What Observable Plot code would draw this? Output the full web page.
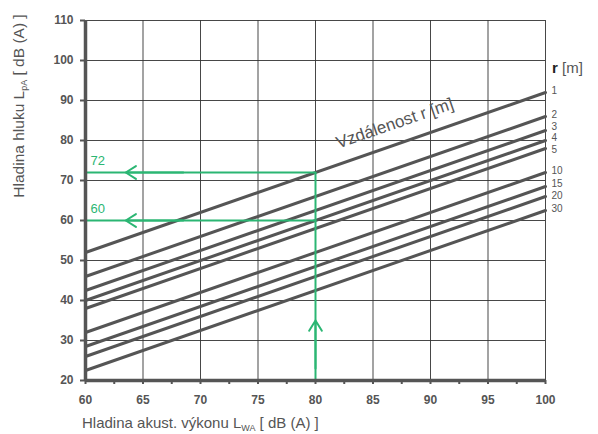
<!DOCTYPE html>
<html><head><meta charset="utf-8">
<script src="https://cdn.jsdelivr.net/npm/d3@7"></script>
<script src="https://cdn.jsdelivr.net/npm/@observablehq/plot@0.6"></script>
<style>body{margin:0;background:#fff}svg{display:block}</style>
</head><body><div id="chart"></div>
<script>
// Distance r [m] of each curve and its sound-pressure level at LwA = 60 and 100 dB(A)
const distances = [1, 2, 3, 4, 5, 10, 15, 20, 30];
const lpAtLw60  = [52, 46, 42.5, 40, 38, 32, 28.5, 26, 22.5];
const lpAtLw100 = [92, 86, 82.5, 80, 78, 72, 68.5, 66, 62.5];
// level at which each r label sits on the right edge
const labelLp   = [92.5, 86.5, 83.5, 80.6, 77.6, 72.5, 69.3, 66.1, 62.9];
const xTicks = [60, 65, 70, 75, 80, 85, 90, 95, 100];
const xMinorTicks = [60, 62.5, 65, 67.5, 70, 72.5, 75, 77.5, 80, 82.5, 85, 87.5, 90, 92.5, 95, 97.5, 100];
const yTicks = [20, 30, 40, 50, 60, 70, 80, 90, 100, 110];
// example reading (green)
const readLw = 80;
const readLp = [72, 60];
const arrowLeftTip = 63.5;
const arrowUpTip = 35;

const W = 598, H = 434;
const GREEN = "#2bb673", GREY = "#555";

const curves = distances.flatMap((r, i) => [
  {r, lw: 60, lp: lpAtLw60[i]},
  {r, lw: 100, lp: lpAtLw100[i]}
]);
const endLabels = distances.map((r, i) => ({r, lw: 100, lp: labelLp[i]}));
const hReadings = readLp.flatMap(v => [{v, lw: 60}, {v, lw: readLw}]);

const plot = Plot.plot({
  width: W, height: H,
  marginLeft: 85, marginRight: 53, marginTop: 20, marginBottom: 54,
  style: {fontFamily: "'Liberation Sans', Arial, sans-serif", fontSize: "12px", color: "#444", background: "#fff"},
  x: {domain: [60, 100], axis: null, label: null},
  y: {domain: [20, 110], axis: null, label: null},
  marks: [
    Plot.gridX(xTicks.slice(1), {stroke: "#333", strokeOpacity: 0.9, strokeWidth: 1}),
    Plot.gridY(yTicks.slice(1), {stroke: "#333", strokeOpacity: 0.9, strokeWidth: 1}),
    Plot.line(curves, {x: "lw", y: "lp", z: "r", stroke: GREY, strokeWidth: 3}),
    // green reading
    Plot.line(hReadings, {x: "lw", y: "v", z: "v", stroke: GREEN, strokeWidth: 2}),
    Plot.ruleX([readLw], {y1: 20, y2: readLp[0], stroke: GREEN, strokeWidth: 2}),
    Plot.arrow(readLp, {x1: arrowLeftTip + 5, x2: arrowLeftTip, y1: d => d, y2: d => d, stroke: GREEN, strokeWidth: 2, headLength: 9, headAngle: 64}),
    Plot.arrow([readLw], {x1: d => d, x2: d => d, y1: arrowUpTip - 12, y2: arrowUpTip, stroke: GREEN, strokeWidth: 2, headLength: 9, headAngle: 64}),
    Plot.text(readLp, {x: 60, y: d => d, text: d => String(d), textAnchor: "start", dx: 5, dy: -12, fill: GREEN, fontSize: 13}),
    // axes
    Plot.ruleX([60], {stroke: GREY, strokeWidth: 3.5}),
    Plot.ruleY([20], {stroke: GREY, strokeWidth: 3.5}),
    Plot.axisX(xMinorTicks, {tickSize: 4, text: null, label: null, stroke: GREY, strokeWidth: 2}),
    Plot.axisX(xTicks, {tickSize: 0, tickPadding: 15, label: null, fontWeight: "bold", fill: "#555", fontSize: 12}),
    Plot.axisY(yTicks, {tickSize: 5, tickPadding: 7, label: null, stroke: GREY, strokeWidth: 2, fontWeight: "bold", fill: "#555", fontSize: 12}),
    // curve labels
    Plot.text(endLabels, {x: "lw", y: "lp", text: d => String(d.r), textAnchor: "start", dx: 6, fill: "#555", fontSize: 10}),
    Plot.text(["Vzdálenost r [m]"], {x: 86.9, y: 84.3, text: d => d, rotate: -19, fill: "#555", fontSize: 17}),
  ]
});

document.getElementById("chart").appendChild(plot);

const xs = plot.scale("x"), ys = plot.scale("y");
const svg = d3.select(plot);
const font = "'Liberation Sans', Arial, sans-serif";

// x-axis title with subscript
const xt = svg.append("text").attr("x", xs.apply(60) - 3).attr("y", H - 6)
  .attr("text-anchor", "start")
  .attr("font-family", font).attr("font-size", 15).attr("fill", "#555");
xt.append("tspan").text("Hladina akust. výkonu L");
xt.append("tspan").attr("font-size", 9).attr("dy", 3).text("WA");
xt.append("tspan").attr("dy", -3).text(" [ dB (A) ]");

// y-axis title with subscript
const yt = svg.append("text").attr("transform", `translate(24,${ys.apply(88.5)}) rotate(-90)`)
  .attr("text-anchor", "middle")
  .attr("font-family", font).attr("font-size", 15.5).attr("fill", "#555");
yt.append("tspan").text("Hladina hluku L");
yt.append("tspan").attr("font-size", 9).attr("dy", 3).text("pA");
yt.append("tspan").attr("dy", -3).text(" [ dB (A) ]");

// "r [m]" header of curve labels
const rt = svg.append("text").attr("x", xs.apply(100) + 7).attr("y", ys.apply(98) + 5)
  .attr("text-anchor", "start")
  .attr("font-family", font).attr("font-size", 15).attr("fill", "#555");
rt.append("tspan").attr("font-weight", "bold").attr("fill", "#222").text("r");
rt.append("tspan").text(" [m]");
</script>
</body></html>
